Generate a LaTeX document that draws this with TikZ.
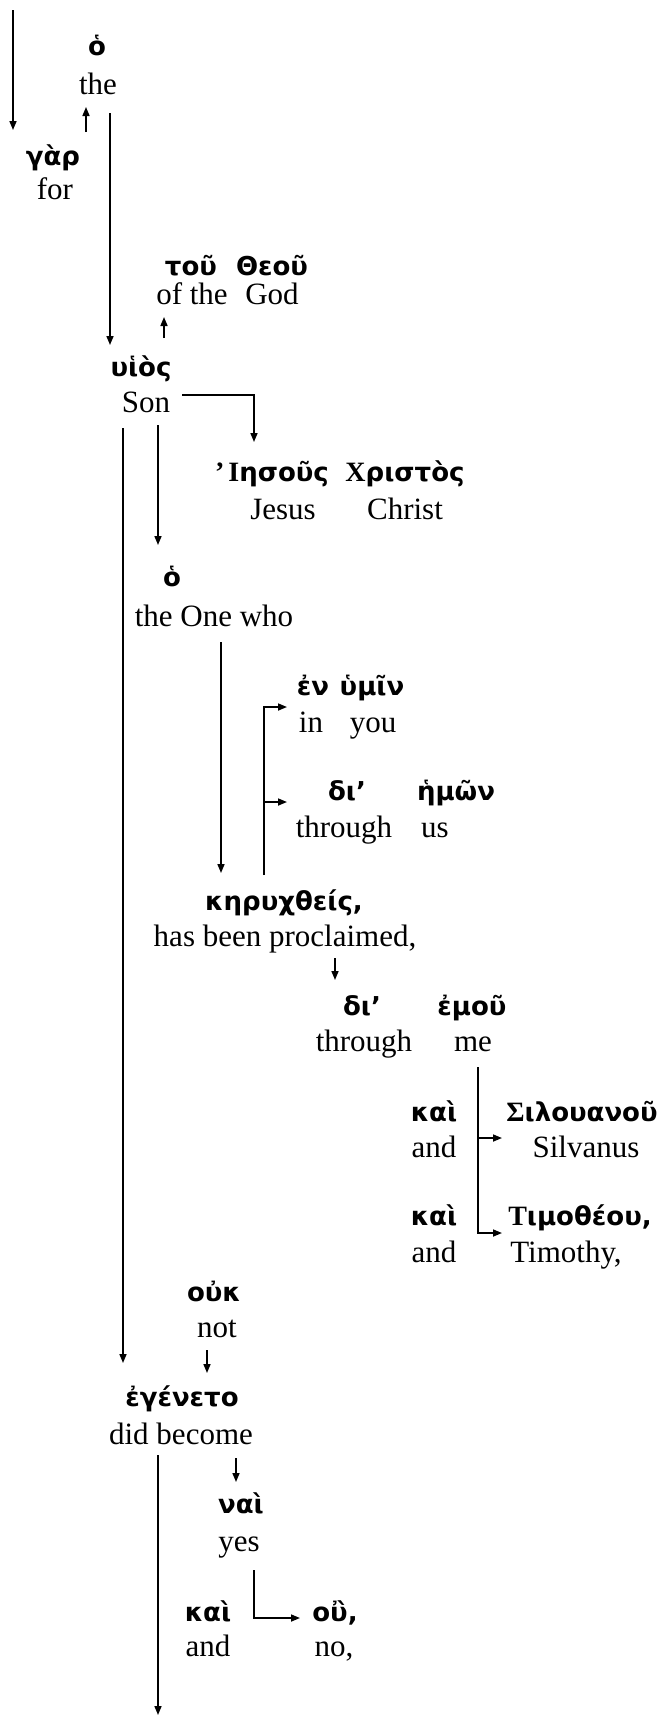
\documentclass[tikz,border=0pt]{standalone}
\usepackage{fontspec}
\setmainfont{Liberation Serif}
\newfontfamily\grkfont{DejaVu Sans}
\newfontfamily\grkcap{Liberation Serif}
% capital letters of the Greek words are set in a serif face
\newcommand{\Cap}[1]{{\grkcap\bfseries\fontsize{28}{30}\selectfont #1}}
\usetikzlibrary{arrows.meta}
\tikzset{
  gk/.style={inner sep=0pt, anchor=base, font=\grkfont\bfseries\fontsize{26}{30}\selectfont},
  en/.style={inner sep=0pt, anchor=base, font=\fontsize{31}{36}\selectfont},
  link/.style={line width=1.6pt, -{Triangle[length=9pt,width=7pt]}},
  rule/.style={line width=1.6pt}
}
\begin{document}
\begin{tikzpicture}[x=1pt,y=-1pt]
\fill[white] (0,0) rectangle (664,1716);
\useasboundingbox (0,0) rectangle (664,1716);

% Greek words (upper line of each pair)
\node[gk] (ho1)        at (97,55)    {ὁ};
\node[gk] (gar)        at (53,165)   {γὰρ};
\node[gk] (tou)        at (191,275)  {τοῦ};
\node[gk] (theou)      at (272,275)  {Θεοῦ};
\node[gk] (huios)      at (141,376)  {υἱὸς};
\node[gk] (iesous)     at (272,481)  {\Cap{’\kern4pt Ι}ησοῦς};
\node[gk] (christos)   at (405,481)  {\Cap{Χ}ριστὸς};
\node[gk] (ho2)        at (172,586)  {ὁ};
\node[gk] (en)         at (313,695)  {ἐν};
\node[gk] (humin)      at (372,695)  {ὑμῖν};
\node[gk] (dia1)       at (347,800)  {δι’};
\node[gk] (hemon)      at (456,800)  {ἡμῶν};
\node[gk] (keruchth)   at (284,910)  {κηρυχθείς,};
\node[gk] (dia2)       at (362,1015) {δι’};
\node[gk] (emou)       at (472,1015) {ἐμοῦ};
\node[gk] (kaiA)       at (434,1121) {καὶ};
\node[gk] (silouanou)  at (582,1121) {\Cap{Σ}ιλουανοῦ};
\node[gk] (kaiB)       at (434,1225) {καὶ};
\node[gk] (timotheou)  at (580,1225) {\Cap{Τ}ιμοθέου,};
\node[gk] (ouk)        at (214,1301) {οὐκ};
\node[gk] (egeneto)    at (182,1406) {ἐγένετο};
\node[gk] (nai)        at (241,1513) {ναὶ};
\node[gk] (kaiC)       at (208,1621) {καὶ};
\node[gk] (ou)         at (335,1621) {οὒ,};

% English glosses (lower line of each pair)
\node[en] (the)        at (98,94)    {the};
\node[en] (for)        at (55,199)   {for};
\node[en] (ofthe)      at (192,304)  {of the};
\node[en] (god)        at (272,304)  {God};
\node[en] (son)        at (146,412)  {Son};
\node[en] (jesus)      at (283,519)  {Jesus};
\node[en] (christ)     at (405,519)  {Christ};
\node[en] (onewho)     at (214,626)  {the One who};
\node[en] (in)         at (311,732)  {in};
\node[en] (you)        at (373,732)  {you};
\node[en] (throughA)   at (344,837)  {through};
\node[en] (us)         at (435,837)  {us};
\node[en] (proclaimed) at (285,946)  {has been proclaimed,};
\node[en] (throughB)   at (364,1051) {through};
\node[en] (me)         at (473,1051) {me};
\node[en] (andA)       at (434,1157) {and};
\node[en] (silvanus)   at (586,1157) {Silvanus};
\node[en] (andB)       at (434,1262) {and};
\node[en] (timothy)    at (566,1262) {Timothy,};
\node[en] (not)        at (217,1337) {not};
\node[en] (didbecome)  at (181,1444) {did become};
\node[en] (yes)        at (239,1551) {yes};
\node[en] (andC)       at (208,1656) {and};
\node[en] (no)         at (334,1656) {no,};

% connector end points
\coordinate (top)      at (13,10);
\coordinate (garIn)    at (13,130);
\coordinate (garOut)   at (86,132);
\coordinate (theIn)    at (86,107);
\coordinate (theOut)   at (110,113);
\coordinate (huiosIn)  at (110,345);
\coordinate (huiosUp)  at (164,338);
\coordinate (godIn)    at (164,317);
\coordinate (sonR)     at (182,395);
\coordinate (sonRc)    at (254,395);
\coordinate (iesousIn) at (254,442);
\coordinate (sonD)     at (158,425);
\coordinate (hoIn)     at (158,545);
\coordinate (sonL)     at (123,428);
\coordinate (egenIn)   at (123,1363);
\coordinate (whoD)     at (221,642);
\coordinate (kerIn)    at (221,873);
\coordinate (kerUp)    at (264,875);
\coordinate (enC)      at (264,707);
\coordinate (enIn)     at (287,707);
\coordinate (diaC)     at (264,802);
\coordinate (diaIn)    at (287,802);
\coordinate (procD)    at (335,958);
\coordinate (dia2In)   at (335,980);
\coordinate (meD)      at (478,1067);
\coordinate (silC)     at (478,1138);
\coordinate (silIn)    at (502,1138);
\coordinate (timC)     at (478,1233);
\coordinate (timIn)    at (502,1233);
\coordinate (notD)     at (207,1350);
\coordinate (egenIn2)  at (207,1373);
\coordinate (didD)     at (158,1455);
\coordinate (bottom)   at (158,1715);
\coordinate (didR)     at (236,1458);
\coordinate (naiIn)    at (236,1482);
\coordinate (yesD)     at (254,1570);
\coordinate (ouC)      at (254,1618);
\coordinate (ouIn)     at (300,1618);

% connectors
\draw[link] (top) -- (garIn);
\draw[link] (garOut) -- (theIn);
\draw[link] (theOut) -- (huiosIn);
\draw[link] (huiosUp) -- (godIn);
\draw[link] (sonR) -- (sonRc) -- (iesousIn);
\draw[link] (sonD) -- (hoIn);
\draw[link] (sonL) -- (egenIn);
\draw[link] (whoD) -- (kerIn);
\draw[link] (kerUp) -- (enC) -- (enIn);
\draw[link] (diaC) -- (diaIn);
\draw[link] (procD) -- (dia2In);
\draw[link] (meD) -- (timC) -- (timIn);
\draw[link] (silC) -- (silIn);
\draw[link] (notD) -- (egenIn2);
\draw[link] (didD) -- (bottom);
\draw[link] (didR) -- (naiIn);
\draw[link] (yesD) -- (ouC) -- (ouIn);
\end{tikzpicture}
\end{document}
